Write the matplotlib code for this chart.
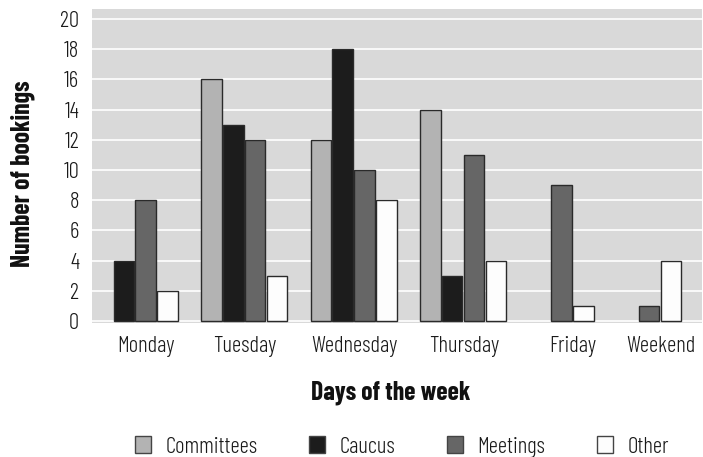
import matplotlib
matplotlib.use("Agg")
import matplotlib.pyplot as plt
from matplotlib import font_manager
from matplotlib.patches import Patch

# ---- data ----
days = ["Monday", "Tuesday", "Wednesday", "Thursday", "Friday", "Weekend"]
series_names = ["Committees", "Caucus", "Meetings", "Other"]
committees = [0, 16, 12, 14, 0, 0]
caucus = [4, 13, 18, 3, 0, 0]
meetings = [8, 12, 10, 11, 9, 1]
other = [2, 3, 8, 4, 1, 4]
y_ticks = [0, 2, 4, 6, 8, 10, 12, 14, 16, 18, 20]

# ---- layout / style ----
day_centers = [2.5, 7, 12, 17, 22, 26]   # category positions (slot units)
colors = ["#b3b3b3", "#1c1c1c", "#666666", "#fdfdfd"]
edge = "#2a2a2a"
bar_w = 0.94

available = set(e.name for e in font_manager.fontManager.ttflist)
FONT = "DejaVu Sans"
for fam in ["Barlow Condensed", "PT Sans Narrow", "Roboto Condensed",
            "Liberation Sans Narrow"]:
    if fam in available:
        FONT = fam
        break
plt.rcParams["font.family"] = [FONT, "DejaVu Sans"]
if FONT == "DejaVu Sans":
    plt.rcParams["font.stretch"] = "condensed"

TICK_SIZE = 16.5
LABEL_SIZE = 18.5
LIGHT = 300

fig = plt.figure(figsize=(7.03, 4.57), dpi=100)
ax = fig.add_axes([91.7 / 703, 1 - 322.7 / 457, 610 / 703, 313.7 / 457])
ax.set_facecolor("#d9d9d9")

values = [committees, caucus, meetings, other]
for d, c in enumerate(day_centers):
    present = [s for s in range(len(series_names)) if values[s][d] > 0]
    n = len(present)
    for k, s in enumerate(present):
        left = c - n / 2 + k
        ax.bar(left, values[s][d], width=bar_w, align="edge",
               color=colors[s], edgecolor=edge, linewidth=1.0, zorder=3)

ax.set_xlim(0, 27.87)
ax.set_ylim(-0.11, 20.66)
ax.set_yticks(y_ticks)
ax.set_yticklabels([str(v) for v in y_ticks], fontweight=LIGHT)
ax.set_xticks(day_centers)
ax.set_xticklabels(days, fontweight=LIGHT)
ax.yaxis.grid(True, color="white", linewidth=1.2)
ax.set_axisbelow(True)
for sp in ax.spines.values():
    sp.set_visible(False)
ax.tick_params(axis="both", length=0, labelsize=TICK_SIZE, colors="#1a1a1a")
ax.tick_params(axis="y", pad=9)
ax.tick_params(axis="x", pad=9.5)

fig.text(391 / 703, 1 - 393 / 457, "Days of the week", ha="center",
         va="center", fontsize=LABEL_SIZE, fontweight="bold", color="#111111")
fig.text(23 / 703, 1 - 173.5 / 457, "Number of bookings", ha="center",
         va="center", rotation=90, fontsize=LABEL_SIZE, fontweight="bold",
         color="#111111")

handles = [Patch(facecolor=colors[i], edgecolor="#444444", linewidth=1.0)
           for i in range(4)]
leg = fig.legend(handles, series_names, loc="center",
                 bbox_to_anchor=(402 / 703, 1 - 447 / 457), ncol=4,
                 frameon=False, fontsize=TICK_SIZE, handlelength=0.7,
                 handleheight=0.7, handletextpad=0.62, columnspacing=2.26,
                 borderpad=0, labelcolor="#1a1a1a")
for t in leg.get_texts():
    t.set_fontweight(LIGHT)

fig.savefig("out.png", dpi=100)
